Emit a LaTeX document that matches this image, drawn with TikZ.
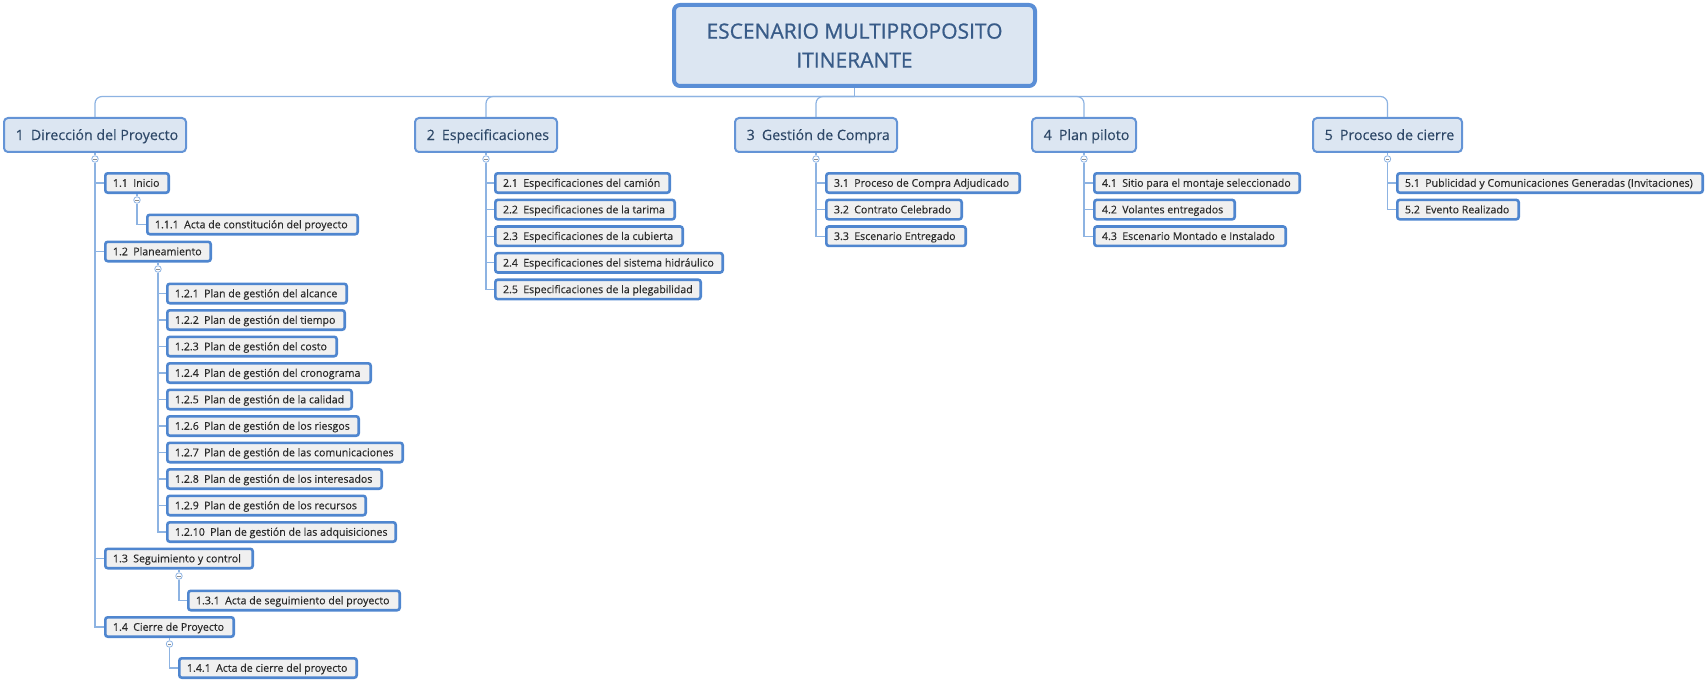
\documentclass[tikz,border=0pt]{standalone}
\usepackage{fontspec}
\setmainfont{Open Sans}
\newfontfamily\wbsttlfont[FakeBold=0.8]{Open Sans}
\newfontfamily\wbsbodyfont[FakeBold=0.25]{Open Sans}
\definecolor{conncol}{HTML}{8DB3E2}
\definecolor{lonefill}{HTML}{DCE6F2}
\definecolor{loneline}{HTML}{6494D6}
\definecolor{lonetext}{HTML}{2E4868}
\definecolor{ttlline}{HTML}{5A8ED6}
\definecolor{ttltext}{HTML}{385B88}
\definecolor{ltwofill}{HTML}{F0F0F0}
\definecolor{ltwoline}{HTML}{4F86CF}
\definecolor{ltwotext}{HTML}{2A2A2A}
\newcommand\wbsgap{\hspace{0.5em}}
\newcommand\LoneNode[6]{%
  \pgfmathsetmacro\wbsx{(#2+#4)/2}\pgfmathsetmacro\wbsy{(#3+#5)/2}%
  \pgfmathsetmacro\wbsw{#4-#2-2}\pgfmathsetmacro\wbsh{#5-#3-2}%
  \pgfmathsetmacro\wbst{#4-#2-2-2*11.7}%
  \node[lvlA, minimum width=\wbsw pt, minimum height=\wbsh pt] (#1) at (\wbsx,\wbsy) {\makebox[\wbst pt][l]{#6}};}
\newcommand\LtwoNode[6]{%
  \pgfmathsetmacro\wbsx{(#2+#4)/2}\pgfmathsetmacro\wbsy{(#3+#5)/2}%
  \pgfmathsetmacro\wbsw{#4-#2-2.6}\pgfmathsetmacro\wbsh{#5-#3-2.6}%
  \pgfmathsetmacro\wbst{#4-#2-2.6-2*7.7}%
  \node[lvlB, minimum width=\wbsw pt, minimum height=\wbsh pt] (#1) at (\wbsx,\wbsy) {\makebox[\wbst pt][l]{#6}};}
\begin{document}
\begin{tikzpicture}[x=1pt,y=-1pt,
  conn/.style={draw=conncol, line width=1.2pt},
  lvlA/.style={draw=loneline, fill=lonefill, line width=2pt, rounded corners=4pt,
     inner xsep=11.7pt, inner ysep=0pt, text=lonetext, font=\wbsbodyfont\fontsize{14.2}{16}\selectfont,
     text height=12pt, text depth=2pt},
  lvlB/.style={draw=ltwoline, fill=ltwofill, line width=2.6pt, rounded corners=2.5pt,
     inner xsep=7.7pt, inner ysep=0pt, text=ltwotext, font=\wbsbodyfont\fontsize{10.6}{12}\selectfont,
     text height=9.5pt, text depth=2pt},
  ttl/.style={draw=ttlline, fill=lonefill, line width=4pt, rounded corners=6pt,
     minimum width=361pt, minimum height=81pt, align=center, text=ttltext,
     font=\wbsttlfont\fontsize{21}{29}\selectfont},
  tog/.style={circle, draw=conncol, fill=white, line width=0.8pt, minimum size=6.5pt, inner sep=0pt,
     path picture={\draw[black!45, line width=0.7pt]
       ([xshift=-1.7pt]path picture bounding box.center) -- ([xshift=1.7pt]path picture bounding box.center);}}
]
\useasboundingbox (0,0) rectangle (1705,682);

% title
\node[ttl] (T) at (854.5,45.5) {ESCENARIO MULTIPROPOSITO\\ITINERANTE};

% level 1
\LoneNode{L1}{3}{117}{187}{153}{1\wbsgap Dirección del Proyecto}
\LoneNode{L2}{414}{117}{558}{153}{2\wbsgap Especificaciones}
\LoneNode{L3}{734}{117}{898}{153}{3\wbsgap Gestión de Compra}
\LoneNode{L4}{1031}{117}{1137}{153}{4\wbsgap Plan piloto}
\LoneNode{L5}{1312}{117}{1463}{153}{5\wbsgap Proceso de cierre}

% column 1
\LtwoNode{n11}{104}{172}{170}{194}{1.1\wbsgap Inicio}
\LtwoNode{n111}{146}{213.5}{359}{235.5}{1.1.1\wbsgap Acta de constitución del proyecto}
\LtwoNode{n12}{104}{240.5}{212}{262.5}{1.2\wbsgap Planeamiento}
\LtwoNode{n121}{166}{282.5}{348}{304.5}{1.2.1\wbsgap Plan de gestión del alcance}
\LtwoNode{n122}{166}{309}{346}{331}{1.2.2\wbsgap Plan de gestión del tiempo}
\LtwoNode{n123}{166}{335.5}{338}{357.5}{1.2.3\wbsgap Plan de gestión del costo}
\LtwoNode{n124}{166}{362}{372}{384}{1.2.4\wbsgap Plan de gestión del cronograma}
\LtwoNode{n125}{166}{388.5}{353}{410.5}{1.2.5\wbsgap Plan de gestión de la calidad}
\LtwoNode{n126}{166}{415}{360}{437}{1.2.6\wbsgap Plan de gestión de los riesgos}
\LtwoNode{n127}{166}{441.5}{404}{463.5}{1.2.7\wbsgap Plan de gestión de las comunicaciones}
\LtwoNode{n128}{166}{468}{383}{490}{1.2.8\wbsgap Plan de gestión de los interesados}
\LtwoNode{n129}{166}{494.5}{367}{516.5}{1.2.9\wbsgap Plan de gestión de los recursos}
\LtwoNode{n1210}{166}{521}{397}{543}{1.2.10\wbsgap Plan de gestión de las adquisiciones}
\LtwoNode{n13}{104}{547.5}{254}{569.5}{1.3\wbsgap Seguimiento y control}
\LtwoNode{n131}{187}{589.5}{401}{611.5}{1.3.1\wbsgap Acta de seguimiento del proyecto}
\LtwoNode{n14}{104}{616}{235}{638}{1.4\wbsgap Cierre de Proyecto}
\LtwoNode{n141}{178}{657}{358}{679}{1.4.1\wbsgap Acta de cierre del proyecto}

% column 2
\LtwoNode{n21}{494}{172}{671}{194}{2.1\wbsgap Especificaciones del camión}
\LtwoNode{n22}{494}{198.6}{676}{220.6}{2.2\wbsgap Especificaciones de la tarima}
\LtwoNode{n23}{494}{225.2}{684}{247.2}{2.3\wbsgap Especificaciones de la cubierta}
\LtwoNode{n24}{494}{251.8}{724}{273.8}{2.4\wbsgap Especificaciones del sistema hidráulico}
\LtwoNode{n25}{494}{278.4}{702}{300.4}{2.5\wbsgap Especificaciones de la plegabilidad}

% column 3
\LtwoNode{n31}{825}{172}{1021}{194}{3.1\wbsgap Proceso de Compra Adjudicado}
\LtwoNode{n32}{825}{198.6}{963}{220.6}{3.2\wbsgap Contrato Celebrado}
\LtwoNode{n33}{825}{225.2}{967}{247.2}{3.3\wbsgap Escenario Entregado}

% column 4
\LtwoNode{n41}{1093}{172}{1301}{194}{4.1\wbsgap Sitio para el montaje seleccionado}
\LtwoNode{n42}{1093}{198.6}{1236}{220.6}{4.2\wbsgap Volantes entregados}
\LtwoNode{n43}{1093}{225.2}{1287}{247.2}{4.3\wbsgap Escenario Montado e Instalado}

% column 5
\LtwoNode{n51}{1396}{172}{1704}{194}{5.1\wbsgap Publicidad y Comunicaciones Generadas (Invitaciones)}
\LtwoNode{n52}{1396}{198.6}{1520}{220.6}{5.2\wbsgap Evento Realizado}

% toggles
\node[tog] (t1) at (95,159) {};
\node[tog] (t2) at (486,159) {};
\node[tog] (t3) at (816,159) {};
\node[tog] (t4) at (1084,159) {};
\node[tog] (t5) at (1387.5,159) {};
\node[tog] (t11) at (137,200) {};
\node[tog] (t12) at (158,269) {};
\node[tog] (t13) at (179,576) {};
\node[tog] (t14) at (169.5,644) {};

% bus from title
\coordinate (j) at (854.5,96.5);
\draw[conn] (T.south) -- (j);
\foreach \k in {L1,L2,L3,L4,L5} {\draw[conn, rounded corners=7pt] (j) -| (\k.north);}

% parent to toggle
\foreach \p/\t in {L1/t1,L2/t2,L3/t3,L4/t4,L5/t5,n11/t11,n12/t12,n13/t13,n14/t14}
  {\draw[conn] (\p.south) -- (\t.north);}

% toggle to children
\foreach \c in {n11,n12,n13,n14} {\draw[conn] (t1.south) |- (\c.west);}
\draw[conn] (t11.south) |- (n111.west);
\foreach \c in {n121,n122,n123,n124,n125,n126,n127,n128,n129,n1210} {\draw[conn] (t12.south) |- (\c.west);}
\draw[conn] (t13.south) |- (n131.west);
\draw[conn] (t14.south) |- (n141.west);
\foreach \c in {n21,n22,n23,n24,n25} {\draw[conn] (t2.south) |- (\c.west);}
\foreach \c in {n31,n32,n33} {\draw[conn] (t3.south) |- (\c.west);}
\foreach \c in {n41,n42,n43} {\draw[conn] (t4.south) |- (\c.west);}
\foreach \c in {n51,n52} {\draw[conn] (t5.south) |- (\c.west);}
\end{tikzpicture}
\end{document}
